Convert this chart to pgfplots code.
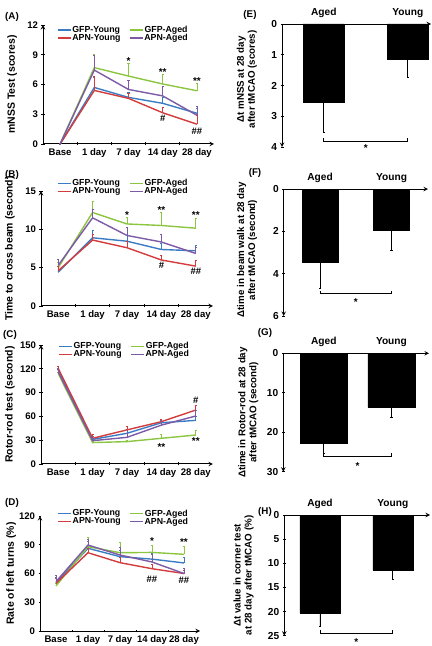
\documentclass[border=0pt]{standalone}
\usepackage{pgfplots}
\pgfplotsset{compat=1.18}
\usepackage{fontspec}
\setmainfont{Liberation Sans}
\definecolor{cblue}{RGB}{58,124,196}
\definecolor{cred}{RGB}{210,60,60}
\definecolor{cgreen}{RGB}{140,197,64}
\definecolor{cpurple}{RGB}{125,90,166}
\newcommand{\fs}[1]{\fontsize{#1}{#1}\selectfont\bfseries}
\newcommand{\fsb}[2]{\fontsize{#1}{#2}\selectfont\bfseries}
\newcommand{\lw}[1]{\makebox[56bp][l]{#1}}
\pgfplotsset{
  base/.style={scale only axis, anchor=south west, clip=false,
    /pgf/number format/assume math mode=true,
    axis line style={-, line width=1pt},
    tick style={line width=0.8pt, black},
    tick align=inside,
    major tick length=3bp, minor tick length=3bp,
  },
  leftp/.style={base,
    axis x line=bottom, axis y line=left,
    xmin=-0.5, xmax=4.5, ymin=0,
    xtick={0,...,4}, xticklabels={Base,1 day,7 day,14 day,28 day},
    major x tick style={draw=none},
    minor xtick={0.5,1.5,2.5,3.5},
    tick label style={font=\fs{9.6}},
    ylabel style={font=\fs{10.5}, at={(axis description cs:-0.18,0.5)}, anchor=center},
    legend columns=2,
    legend style={draw=none, fill=none, font=\fs{8.8}, inner sep=0pt, anchor=north west,
      nodes={inner sep=0.8bp}, row sep=-1.5bp, column sep=0bp},
    legend image code/.code={\draw[##1] (0bp,0bp) -- (13bp,0bp);},
  },
  rightp/.style={base,
    y dir=reverse, ymin=0,
    axis x line=top, axis y line=left,
    xtick={0,1}, xticklabels={Aged,Young},
    major x tick style={draw=none},
    tick label style={font=\fs{10.2}},
    ylabel style={font=\fsb{9.8}{11}, align=center, anchor=center},
    ybar,
  },
  eb/.style={error bars/.cd, y dir=plus, y explicit,
    error bar style={line width=0.8pt},
    error mark options={rotate=90, mark size=1.1pt, line width=0.8pt}},
  ln/.style={line width=1.4pt},
}
\begin{document}
\begin{tikzpicture}
% ---------------- (A)
\begin{axis}[leftp, at={(43bp,502bp)}, width=171bp, height=119bp,
  ymax=12, ytick={0,3,6,9,12}, ylabel={mNSS Test (scores)},
  legend style={at={(axis description cs:0.082,1.0)}}]
\addplot[cblue, ln, eb] coordinates {(0,0) +- (0,0) (1,5.7) +- (0,1.0) (2,4.7) +- (0,0.5) (3,4.1) +- (0,0.6) (4,3.1) +- (0,0.5)};
\addlegendentry{\lw{GFP-Young}}
\addplot[cgreen, ln, eb] coordinates {(0,0) +- (0,0) (1,7.7) +- (0,1.3) (2,6.85) +- (0,1.25) (3,6.05) +- (0,1.0) (4,5.37) +- (0,0.75)};
\addlegendentry{GFP-Aged}
\addplot[cred, ln, eb] coordinates {(0,0) +- (0,0) (1,5.4) +- (0,1.4) (2,4.6) +- (0,0.5) (3,3.15) +- (0,0.5) (4,2.0) +- (0,0.9)};
\addlegendentry{\lw{APN-Young}}
\addplot[cpurple, ln, eb] coordinates {(0,0) +- (0,0) (1,7.45) +- (0,1.45) (2,5.5) +- (0,0.9) (3,4.85) +- (0,1.0) (4,2.9) +- (0,0.9)};
\addlegendentry{APN-Aged}
\node[font=\fs{10}] at (axis cs:2,8.4) {*};
\node[font=\fs{10}] at (axis cs:3,7.3) {**};
\node[font=\fs{10}] at (axis cs:4,6.35) {**};
\node[font=\fs{9.5}] at (axis cs:3,2.6) {\#};
\node[font=\fs{9.5}] at (axis cs:4,1.3) {\#\#};
\end{axis}
% ---------------- (B)
\begin{axis}[leftp, at={(41bp,340bp)}, width=172bp, height=115bp,
  ymax=15, ytick={0,5,10,15}, ylabel={Time to cross beam (second)},
  legend style={at={(axis description cs:0.093,1.108)}}]
\addplot[cblue, ln, eb] coordinates {(0,4.4) +- (0,0.8) (1,8.9) +- (0,0.9) (2,8.45) +- (0,0.75) (3,7.37) +- (0,0.8) (4,7.2) +- (0,0.7)};
\addlegendentry{\lw{GFP-Young}}
\addplot[cgreen, ln, eb] coordinates {(0,5.0) +- (0,0.7) (1,12.2) +- (0,1.4) (2,10.7) +- (0,0.9) (3,10.5) +- (0,1.7) (4,10.15) +- (0,1.3)};
\addlegendentry{GFP-Aged}
\addplot[cred, ln, eb] coordinates {(0,4.6) +- (0,0.6) (1,8.6) +- (0,0.8) (2,7.6) +- (0,0.8) (3,6.0) +- (0,0.55) (4,5.2) +- (0,0.7)};
\addlegendentry{\lw{APN-Young}}
\addplot[cpurple, ln, eb] coordinates {(0,5.3) +- (0,0.8) (1,11.5) +- (0,1.15) (2,9.2) +- (0,1.1) (3,8.35) +- (0,1.0) (4,6.85) +- (0,0.75)};
\addlegendentry{APN-Aged}
\node[font=\fs{10}] at (axis cs:2,11.9) {*};
\node[font=\fs{10}] at (axis cs:3,12.5) {**};
\node[font=\fs{10}] at (axis cs:4,11.9) {**};
\node[font=\fs{9.5}] at (axis cs:3,5.3) {\#};
\node[font=\fs{9.5}] at (axis cs:4,4.5) {\#\#};
\end{axis}
% ---------------- (C)
\begin{axis}[leftp, at={(41bp,182bp)}, width=172bp, height=119bp,
  ymax=150, ytick={0,30,60,90,120,150}, ylabel={Rotor-rod test (second)},
  legend style={at={(axis description cs:0.1,1.03)}}]
\addplot[cblue, ln, eb] coordinates {(0,118.5) +- (0,2) (1,31) +- (0,4.3) (2,38.7) +- (0,5) (3,52) +- (0,3) (4,55) +- (0,5)};
\addlegendentry{\lw{GFP-Young}}
\addplot[cgreen, ln, eb] coordinates {(0,114) +- (0,2) (1,27) +- (0,2) (2,28.2) +- (0,2) (3,32.4) +- (0,5.4) (4,36.5) +- (0,6.4)};
\addlegendentry{GFP-Aged}
\addplot[cred, ln, eb] coordinates {(0,120.5) +- (0,2.2) (1,32.4) +- (0,5) (2,43) +- (0,5) (3,53.4) +- (0,3) (4,68) +- (0,6.4)};
\addlegendentry{\lw{APN-Young}}
\addplot[cpurple, ln, eb] coordinates {(0,116) +- (0,3) (1,29.4) +- (0,3) (2,33.6) +- (0,5) (3,49) +- (0,6.5) (4,60.5) +- (0,7.5)};
\addlegendentry{APN-Aged}
\node[font=\fs{9.5}] at (axis cs:4,80.5) {\#};
\node[font=\fs{10}] at (axis cs:3,21.5) {**};
\node[font=\fs{10}] at (axis cs:4,29.5) {**};
\end{axis}
% ---------------- (D)
\begin{axis}[leftp, at={(40bp,15bp)}, width=160bp, height=115bp,
  ymax=120, ytick={0,30,60,90,120}, ylabel={Rate of left turns (\%)},
  legend style={at={(axis description cs:0.108,1.063)}}]
\addplot[cblue, ln, eb] coordinates {(0,50.4) +- (0,6) (1,86.3) +- (0,7.6) (2,77.6) +- (0,6) (3,75) +- (0,6) (4,71) +- (0,6)};
\addlegendentry{\lw{GFP-Young}}
\addplot[cgreen, ln, eb] coordinates {(0,47) +- (0,3) (1,88) +- (0,9.7) (2,81.7) +- (0,10.5) (3,82) +- (0,7.7) (4,80) +- (0,8)};
\addlegendentry{GFP-Aged}
\addplot[cred, ln, eb] coordinates {(0,49.7) +- (0,5) (1,81.7) +- (0,5) (2,71.3) +- (0,6) (3,65) +- (0,5) (4,60) +- (0,3)};
\addlegendentry{\lw{APN-Young}}
\addplot[cpurple, ln, eb] coordinates {(0,51.5) +- (0,7) (1,89.7) +- (0,6) (2,79.3) +- (0,8) (3,72) +- (0,8) (4,60) +- (0,5)};
\addlegendentry{APN-Aged}
\node[font=\fs{10}] at (axis cs:3,94) {*};
\node[font=\fs{10}] at (axis cs:4,92.5) {**};
\node[font=\fs{9.5}] at (axis cs:3,54) {\#\#};
\node[font=\fs{9.5}] at (axis cs:4,53.2) {\#\#};
\end{axis}
% ---------------- (E)
\begin{axis}[rightp, at={(282bp,499bp)}, width=149bp, height=123bp,
  xmin=-0.497, xmax=1.275, ymax=4, ytick={0,1,2,3,4}, bar width=0.49,
  ylabel={Δt mNSS at 28 day\\after tMCAO (scores)},
  ylabel style={at={(axis description cs:-0.236,0.55)}}]
\addplot[fill=black, draw=black, eb] coordinates {(0,2.53) +- (0,1.0) (1,1.15) +- (0,0.58)};
\draw[line width=0.8pt] (axis cs:0,3.72) -- (axis cs:0,3.83) -- (axis cs:1,3.83) -- (axis cs:1,3.72);
\node[font=\fs{10}] at (axis cs:0.5,4.02) {*};
\end{axis}
% ---------------- (F)
\begin{axis}[rightp, at={(283.7bp,330bp)}, width=144.3bp, height=127bp,
  xmin=-0.508, xmax=1.51, ymax=6, ytick={0,2,4,6}, bar width=0.5,
  ylabel={Δtime in beam walk at 28 day\\after tMCAO (second)},
  ylabel style={at={(axis description cs:-0.254,0.52)}}]
\addplot[fill=black, draw=black, eb] coordinates {(0,3.44) +- (0,1.24) (1,1.94) +- (0,0.95)};
\draw[line width=0.8pt] (axis cs:0,4.8) -- (axis cs:0,4.94) -- (axis cs:1,4.94) -- (axis cs:1,4.8);
\node[font=\fs{10}] at (axis cs:0.5,5.35) {*};
\end{axis}
% ---------------- (G)
\begin{axis}[rightp, at={(283.3bp,174.3bp)}, width=145.7bp, height=118.4bp,
  xmin=-0.6, xmax=1.556, ymax=30, ytick={0,10,20,30}, bar width=0.7,
  ylabel={Δtime in Rotor-rod at 28 day\\after tMCAO (second)},
  ylabel style={at={(axis description cs:-0.24,0.5)}}]
\addplot[fill=black, draw=black, eb] coordinates {(0,22.8) +- (0,2.6) (1,13.7) +- (0,2.6)};
\draw[line width=0.8pt] (axis cs:0,25.3) -- (axis cs:0,26.1) -- (axis cs:1,26.1) -- (axis cs:1,25.3);
\node[font=\fs{10}] at (axis cs:0.5,28.6) {*};
\end{axis}
% ---------------- (H)
\begin{axis}[rightp, at={(284.3bp,10.3bp)}, width=145.7bp, height=120.7bp,
  xmin=-0.49, xmax=1.51, ymax=25, ytick={0,5,10,15,20,25}, bar width=0.55,
  ylabel={Δt value in corner test\\at 28 day after tMCAO (\%)},
  ylabel style={at={(axis description cs:-0.28,0.5)}}]
\addplot[fill=black, draw=black, eb] coordinates {(0,20.3) +- (0,2.8) (1,11.4) +- (0,1.9)};
\draw[line width=0.8pt] (axis cs:0,23.8) -- (axis cs:0,24.6) -- (axis cs:1,24.6) -- (axis cs:1,23.8);
\node[font=\fs{10}] at (axis cs:0.5,26.3) {*};
\end{axis}
% panel labels
\node[font=\fs{9.8}] at (12bp,629bp) {(A)};
\node[font=\fs{9.8}] at (12bp,471bp) {(B)};
\node[font=\fs{9.8}] at (10bp,311bp) {(C)};
\node[font=\fs{9.8}] at (12bp,143bp) {(D)};
\node[font=\fs{9.8}] at (250bp,631bp) {(E)};
\node[font=\fs{9.8}] at (255bp,473bp) {(F)};
\node[font=\fs{9.8}] at (265bp,313bp) {(G)};
\node[font=\fs{9.8}] at (265bp,134bp) {(H)};
\pgfresetboundingbox
\path[use as bounding box] (0bp,0bp) rectangle (432bp,646bp);
\end{tikzpicture}
\end{document}
